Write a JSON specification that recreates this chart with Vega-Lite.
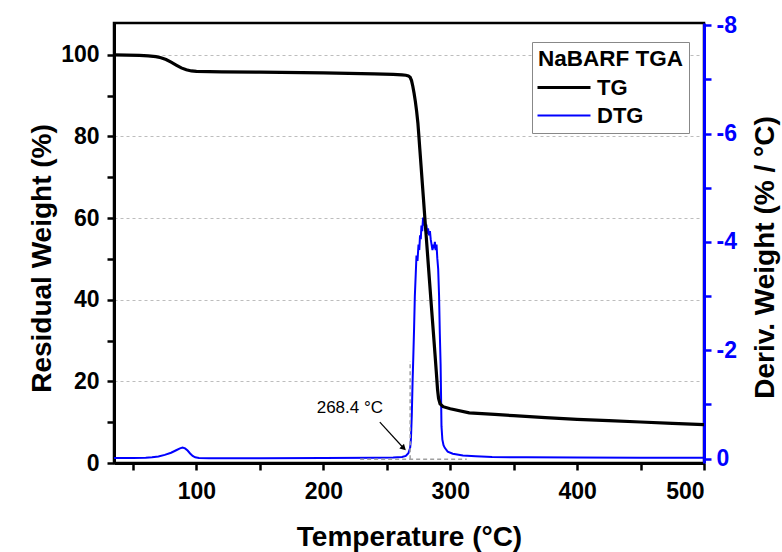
{
  "$schema": "https://vega.github.io/schema/vega-lite/v6.json",
  "width": 590,
  "height": 440,
  "autosize": "none",
  "padding": {"left": 114, "top": 23, "right": 78, "bottom": 89},
  "background": "white",
  "config": {
    "view": {"stroke": "black", "strokeWidth": 2.5},
    "font": "Liberation Sans",
    "axis": {
      "grid": false,
      "domainColor": "black", "domainWidth": 3,
      "tickColor": "black", "tickWidth": 2.5, "tickSize": 7,
      "labelFont": "Liberation Sans", "labelFontSize": 23, "labelFontWeight": "bold",
      "labelColor": "black",
      "titleFont": "Liberation Sans", "titleFontSize": 28, "titleFontWeight": "bold",
      "titleColor": "black"
    }
  },
  "datasets": {
    "tg": [
      {"T": 35, "w": 100.0}, {"T": 45, "w": 99.95}, {"T": 55, "w": 99.85}, {"T": 62, "w": 99.75},
      {"T": 68, "w": 99.55}, {"T": 72, "w": 99.3}, {"T": 76, "w": 98.85}, {"T": 80, "w": 98.2},
      {"T": 84, "w": 97.5}, {"T": 88, "w": 96.8}, {"T": 92, "w": 96.35}, {"T": 96, "w": 96.05},
      {"T": 100, "w": 95.95}, {"T": 120, "w": 95.85}, {"T": 150, "w": 95.75}, {"T": 200, "w": 95.6},
      {"T": 240, "w": 95.35}, {"T": 255, "w": 95.2}, {"T": 262, "w": 95.1}, {"T": 265, "w": 95.0},
      {"T": 267, "w": 94.85}, {"T": 268.4, "w": 94.5}, {"T": 269.5, "w": 93.7}, {"T": 270.5, "w": 92.3},
      {"T": 271.5, "w": 90.6}, {"T": 272.5, "w": 88.6}, {"T": 273.5, "w": 86.2}, {"T": 274.5, "w": 83.3},
      {"T": 275.3, "w": 80.0}, {"T": 276, "w": 77.0}, {"T": 277, "w": 72.8}, {"T": 278, "w": 68.5},
      {"T": 279, "w": 64.3}, {"T": 280, "w": 60.0}, {"T": 281, "w": 55.8}, {"T": 282, "w": 51.6},
      {"T": 283, "w": 47.4}, {"T": 284, "w": 43.2}, {"T": 285, "w": 39.0}, {"T": 286, "w": 34.9},
      {"T": 287, "w": 30.8}, {"T": 288, "w": 26.6}, {"T": 289, "w": 22.4}, {"T": 290, "w": 18.0},
      {"T": 290.8, "w": 15.8}, {"T": 292, "w": 14.5}, {"T": 294.4, "w": 13.8}, {"T": 300, "w": 13.3},
      {"T": 315, "w": 12.3}, {"T": 335, "w": 11.9}, {"T": 350, "w": 11.6}, {"T": 375, "w": 11.1},
      {"T": 400, "w": 10.7}, {"T": 425, "w": 10.4}, {"T": 450, "w": 10.05}, {"T": 475, "w": 9.7},
      {"T": 500, "w": 9.4}
    ],
    "dtg": [
      {"T": 35, "d": -0.01}, {"T": 50, "d": -0.01}, {"T": 60, "d": -0.015}, {"T": 65, "d": -0.025},
      {"T": 70, "d": -0.04}, {"T": 75, "d": -0.07}, {"T": 80, "d": -0.11}, {"T": 84, "d": -0.155},
      {"T": 87, "d": -0.19}, {"T": 89, "d": -0.205}, {"T": 91, "d": -0.19}, {"T": 93, "d": -0.15},
      {"T": 95, "d": -0.095}, {"T": 97, "d": -0.05}, {"T": 99, "d": -0.025}, {"T": 102, "d": -0.012},
      {"T": 110, "d": -0.008}, {"T": 150, "d": -0.008}, {"T": 200, "d": -0.01}, {"T": 240, "d": -0.015},
      {"T": 255, "d": -0.02}, {"T": 262, "d": -0.03}, {"T": 265, "d": -0.05}, {"T": 267, "d": -0.1},
      {"T": 268.4, "d": -0.2}, {"T": 269, "d": -0.35}, {"T": 269.7, "d": -0.8}, {"T": 270.3, "d": -1.4},
      {"T": 270.8, "d": -1.8}, {"T": 271.5, "d": -2.4}, {"T": 272.1, "d": -3.0}, {"T": 272.8, "d": -3.4},
      {"T": 273.4, "d": -3.75}, {"T": 274.2, "d": -3.65}, {"T": 275, "d": -3.95}, {"T": 275.6, "d": -3.85},
      {"T": 276.2, "d": -4.12}, {"T": 276.8, "d": -4.05}, {"T": 277.3, "d": -4.3}, {"T": 277.9, "d": -4.2},
      {"T": 278.6, "d": -4.45}, {"T": 279.2, "d": -4.3}, {"T": 279.8, "d": -4.38}, {"T": 280.5, "d": -4.2},
      {"T": 281.2, "d": -4.32}, {"T": 281.8, "d": -4.15}, {"T": 282.5, "d": -4.25}, {"T": 283.3, "d": -4.12},
      {"T": 284, "d": -4.2}, {"T": 284.6, "d": -4.05}, {"T": 285.3, "d": -3.95}, {"T": 286, "d": -3.85},
      {"T": 286.6, "d": -3.95}, {"T": 287.2, "d": -3.88}, {"T": 287.9, "d": -4.0}, {"T": 288.5, "d": -3.85},
      {"T": 289.2, "d": -3.95}, {"T": 289.8, "d": -3.7}, {"T": 290.5, "d": -3.5}, {"T": 291.2, "d": -3.0},
      {"T": 291.8, "d": -2.3}, {"T": 292.4, "d": -1.75}, {"T": 293.1, "d": -0.6}, {"T": 293.8, "d": -0.35},
      {"T": 294.7, "d": -0.25}, {"T": 295.7, "d": -0.2}, {"T": 298, "d": -0.13}, {"T": 302, "d": -0.09},
      {"T": 310, "d": -0.06}, {"T": 320, "d": -0.045}, {"T": 333, "d": -0.03}, {"T": 360, "d": -0.025},
      {"T": 400, "d": -0.02}, {"T": 450, "d": -0.015}, {"T": 500, "d": -0.015}
    ],
    "guides": [
      {"xa": 229, "xb": 313, "ya": 0.9, "yb": 0.9},
      {"xa": 268.4, "xb": 268.4, "ya": 0.9, "yb": 25}
    ],
    "arrow": [
      {"xa": 244.5, "ya": 10.0, "xb": 262.8, "yb": 3.8}
    ],
    "head": [
      {"x": 262.8, "y": 3.8}
    ],
    "label": [
      {"x": 220.9, "y": 13.4, "text": "268.4 °C"}
    ]
  },
  "layer": [
    {
      "data": {"name": "dtg"},
      "mark": {"type": "line", "strokeWidth": 2, "clip": true},
      "encoding": {
        "x": {
          "field": "T", "type": "quantitative", "title": "Temperature (°C)",
          "scale": {"domain": [35, 500], "nice": false, "zero": false},
          "axis": {
            "title": "Temperature (°C)",
            "values": [50, 100, 150, 200, 250, 300, 350, 400, 450, 500],
            "labelExpr": "datum.value % 100 === 0 ? datum.label : ''",
            "grid": false,
            "labelPadding": 10,
            "titleY": 60, "titleBaseline": "top"
          }
        },
        "y": {
          "field": "d", "type": "quantitative", "title": "Deriv. Weight (% / °C)",
          "scale": {"domain": [-8.04, 0.08], "reverse": true, "nice": false, "zero": false},
          "axis": {
            "orient": "right",
            "title": "Deriv. Weight (% / °C)",
            "values": [-8, -7, -6, -5, -4, -3, -2, -1, 0],
            "labelExpr": "datum.value % 2 === 0 ? (datum.value < 0 ? '-' + abs(datum.value) : '0') : ''",
            "grid": false,
            "domainColor": "#0000ff",
            "tickColor": "#0000ff",
            "labelColor": "#0000ff", "labelPadding": 5,
            "titleAngle": -90, "titleX": 69, "titleY": 234,
            "titleBaseline": "alphabetic", "titleAlign": "center"
          }
        },
        "color": {
          "datum": "DTG",
          "scale": {"domain": ["TG", "DTG"], "range": ["black", "#0000ff"]},
          "legend": {
            "orient": "none", "legendX": 418, "legendY": 19,
            "title": "NaBARF TGA",
            "titleFont": "Liberation Sans", "titleFontSize": 22.5, "titleFontWeight": "bold",
            "titleColor": "black", "titlePadding": 6,
            "labelFont": "Liberation Sans", "labelFontSize": 22, "labelFontWeight": "bold",
            "labelColor": "black", "labelOffset": 22, "symbolOffset": 15,
            "symbolType": "stroke", "symbolSize": 2809, "symbolStrokeWidth": 2.5,
            "rowPadding": 6,
            "strokeColor": "#888888", "fillColor": "white", "padding": 6,
            "cornerRadius": 0,
            "encode": {"symbols": {"update": {"strokeWidth": {"signal": "datum.value === 'TG' ? 3.2 : 2"}}}}
          }
        }
      }
    },
    {
      "layer": [
        {
          "data": {"name": "guides"},
          "mark": {"type": "rule", "color": "#a0a0a0", "strokeDash": [4, 3], "strokeWidth": 1.5},
          "encoding": {
            "x": {"field": "xa", "type": "quantitative", "title": "Temperature (°C)"},
            "x2": {"field": "xb"},
            "y": {"field": "ya", "type": "quantitative", "title": "Residual Weight (%)"},
            "y2": {"field": "yb"}
          }
        },
        {
          "data": {"name": "tg"},
          "mark": {"type": "line", "strokeWidth": 3.2, "clip": true},
          "encoding": {
            "x": {"field": "T", "type": "quantitative", "title": "Temperature (°C)"},
            "y": {
              "field": "w", "type": "quantitative", "title": "Residual Weight (%)",
              "scale": {"domain": [0, 107.8], "nice": false, "zero": false},
              "axis": {
                "orient": "left",
                "title": "Residual Weight (%)",
                "values": [0, 10, 20, 30, 40, 50, 60, 70, 80, 90, 100],
                "labelExpr": "datum.value % 20 === 0 ? datum.label : ''",
                "grid": true,
                "gridColor": "#bdbdbd", "gridDash": [3, 3], "gridWidth": 1,
                "gridOpacity": {"condition": {"test": "datum.value % 20 === 0 && datum.value > 0", "value": 1}, "value": 0},
                "labelPadding": 8,
                "titleAngle": -90, "titleX": -64, "titleY": 235,
                "titleBaseline": "alphabetic", "titleAlign": "center"
              }
            },
            "color": {"datum": "TG"}
          }
        },
        {
          "data": {"name": "arrow"},
          "mark": {"type": "rule", "color": "black", "strokeWidth": 1.2},
          "encoding": {
            "x": {"field": "xa", "type": "quantitative", "title": "Temperature (°C)"},
            "x2": {"field": "xb"},
            "y": {"field": "ya", "type": "quantitative", "title": "Residual Weight (%)"},
            "y2": {"field": "yb"}
          }
        },
        {
          "data": {"name": "head"},
          "mark": {"type": "point", "shape": "triangle", "filled": true, "color": "black", "size": 45, "angle": 134, "opacity": 1},
          "encoding": {
            "x": {"field": "x", "type": "quantitative", "title": "Temperature (°C)"},
            "y": {"field": "y", "type": "quantitative", "title": "Residual Weight (%)"}
          }
        },
        {
          "data": {"name": "label"},
          "mark": {"type": "text", "font": "Liberation Sans", "fontSize": 17, "color": "black", "align": "center", "baseline": "middle"},
          "encoding": {
            "x": {"field": "x", "type": "quantitative", "title": "Temperature (°C)"},
            "y": {"field": "y", "type": "quantitative", "title": "Residual Weight (%)"},
            "text": {"field": "text"}
          }
        }
      ]
    }
  ],
  "resolve": {"scale": {"y": "independent"}}
}
